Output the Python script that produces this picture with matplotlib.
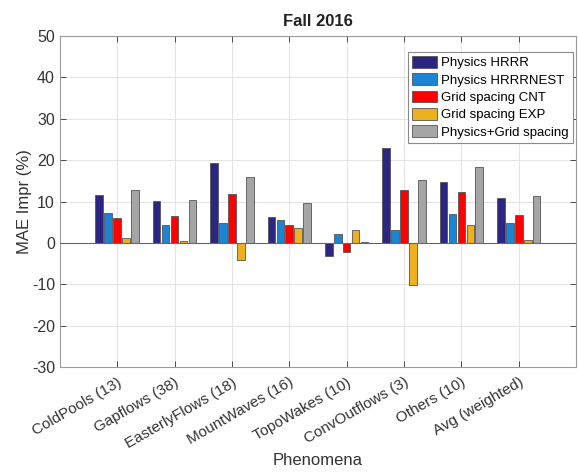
import numpy as np
import matplotlib
matplotlib.use("Agg")
import matplotlib.pyplot as plt

plt.rcParams['font.family'] = ['Liberation Sans', 'DejaVu Sans']
plt.rcParams['axes.unicode_minus'] = False

categories = ['ColdPools (13)', 'Gapflows (38)', 'EasterlyFlows (18)',
              'MountWaves (16)', 'TopoWakes (10)', 'ConvOutflows (3)',
              'Others (10)', 'Avg (weighted)']

physics_hrrr = [11.6, 10.1, 19.3, 6.2, -3.1, 23.0, 14.7, 10.8]
physics_hrrrnest = [7.3, 4.4, 4.8, 5.5, 2.2, 3.0, 7.0, 4.9]
grid_cnt = [5.9, 6.4, 11.8, 4.4, -2.2, 12.8, 12.2, 6.8]
grid_exp = [1.3, 0.4, -4.2, 3.5, 3.1, -10.1, 4.3, 0.6]
physics_grid = [12.7, 10.3, 15.9, 9.6, 0.1, 15.3, 18.4, 11.3]

series = [physics_hrrr, physics_hrrrnest, grid_cnt, grid_exp, physics_grid]
labels = ['Physics HRRR', 'Physics HRRRNEST', 'Grid spacing CNT',
          'Grid spacing EXP', 'Physics+Grid spacing']
colors = ['#2b2683', '#1a85d4', '#ff0000', '#eeb01f', '#a5a5a5']

fig = plt.figure(figsize=(5.79, 4.74), dpi=100)
ax = fig.add_axes([0.1033, 0.2257, 0.8917, 0.6983])

x = np.arange(1, len(categories) + 1)
pitch = 0.156
width = 0.133
for i, (vals, lab, col) in enumerate(zip(series, labels, colors)):
    ax.bar(x + (i - 2) * pitch, vals, width, color=col, label=lab,
           edgecolor='#555555', linewidth=0.6, zorder=3)

ax.axhline(0, color='#666666', linewidth=0.8, zorder=4)

ax.set_xlim(0, 9)
ax.set_ylim(-30, 50)
ax.set_yticks(np.arange(-30, 51, 10))
ax.set_xticks(x)
ax.set_xticklabels(categories, rotation=30, ha='right', rotation_mode='anchor')
ax.tick_params(axis='both', labelsize=11.5, colors='#333333',
               direction='in', length=4, width=0.6, top=True, right=True)
ax.tick_params(axis='x', pad=6, labelsize=11)
ax.grid(True, color='#e3e3e3', linewidth=0.7, zorder=0)
for sp in ax.spines.values():
    sp.set_color('#9a9a9a')
    sp.set_linewidth(0.8)

ax.set_title('Fall 2016', fontsize=12, fontweight='bold', color='#222222', pad=7)
ax.set_ylabel('MAE Impr (%)', fontsize=12, color='#333333', labelpad=0)
ax.set_xlabel('Phenomena', fontsize=12, color='#333333', labelpad=2)

leg = ax.legend(loc='upper right', bbox_to_anchor=(0.994, 0.952), borderaxespad=0,
                fontsize=9.5, fancybox=False, handlelength=1.9, handleheight=1.0,
                labelspacing=0.3, handletextpad=0.3, borderpad=0.3, framealpha=1)
leg.get_frame().set_edgecolor('#8a8a8a')
leg.get_frame().set_linewidth(0.8)

fig.savefig('out.png', dpi=100)
